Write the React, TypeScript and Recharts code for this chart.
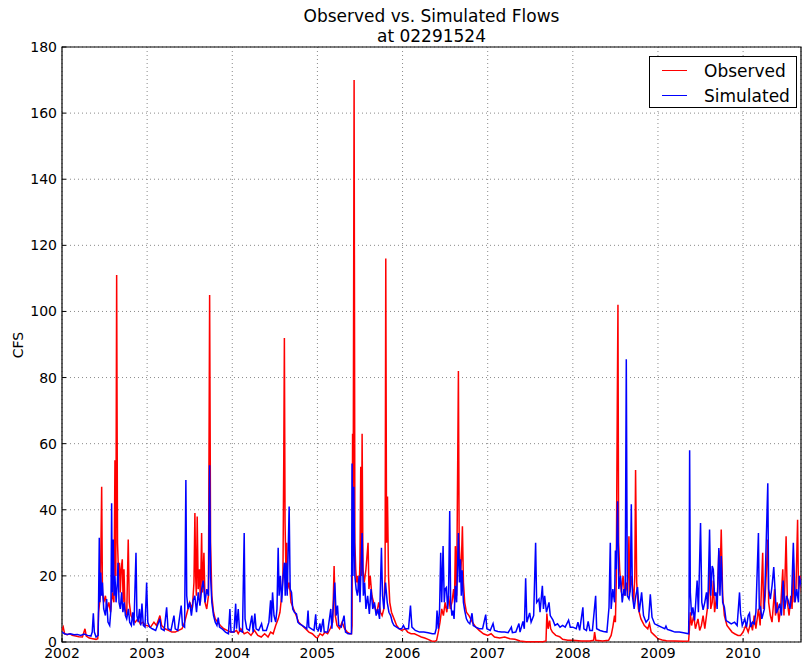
import { LineChart, Line, XAxis, YAxis, CartesianGrid, ReferenceArea } from "recharts";

// decimal year, flow in CFS
const yearTicks = [2002, 2003, 2004, 2005, 2006, 2007, 2008, 2009, 2010];
const cfsTicks = [0, 20, 40, 60, 80, 100, 120, 140, 160, 180];

const observedFlow: [number, number][] = [
  [2002.0, 3.5], [2002.015, 4.5], [2002.03, 2.5], [2002.06, 2.2], [2002.09, 2.5], [2002.12, 2.0], [2002.16, 1.8],
  [2002.2, 1.6], [2002.24, 1.5], [2002.27, 4.0], [2002.285, 1.8], [2002.32, 1.2], [2002.36, 1.0], [2002.4, 0.8],
  [2002.42, 1.0], [2002.43, 9], [2002.45, 14], [2002.466, 47], [2002.475, 15], [2002.49, 12], [2002.51, 14],
  [2002.53, 10], [2002.55, 12], [2002.57, 9], [2002.59, 15], [2002.61, 12], [2002.622, 55], [2002.632, 20],
  [2002.642, 111], [2002.652, 30], [2002.665, 20], [2002.675, 24], [2002.685, 15], [2002.695, 22], [2002.708, 25],
  [2002.718, 12], [2002.728, 22], [2002.74, 10], [2002.76, 8], [2002.778, 31], [2002.79, 12], [2002.81, 8],
  [2002.83, 7], [2002.86, 6], [2002.89, 7], [2002.92, 5.5], [2002.95, 6], [2002.98, 5],
  [2003.0, 5], [2003.04, 4.5], [2003.08, 6], [2003.11, 5], [2003.15, 8], [2003.17, 5], [2003.21, 4], [2003.25, 3.5],
  [2003.29, 3], [2003.33, 3], [2003.37, 3.5], [2003.41, 4], [2003.44, 6], [2003.47, 9], [2003.5, 12], [2003.53, 10],
  [2003.55, 18], [2003.561, 39], [2003.57, 20], [2003.578, 14], [2003.588, 38], [2003.6, 16], [2003.615, 22],
  [2003.625, 12], [2003.64, 33], [2003.65, 15], [2003.667, 27], [2003.68, 12], [2003.7, 10], [2003.72, 14],
  [2003.734, 105], [2003.745, 30], [2003.76, 14], [2003.78, 9], [2003.8, 7], [2003.83, 6], [2003.86, 5],
  [2003.9, 4], [2003.94, 3.5], [2003.98, 3],
  [2004.02, 3], [2004.05, 3.5], [2004.07, 2.5], [2004.1, 4], [2004.14, 2.5], [2004.18, 3], [2004.22, 2],
  [2004.26, 3.5], [2004.3, 2], [2004.34, 1.5], [2004.38, 2.5], [2004.42, 1.5], [2004.45, 3], [2004.48, 2.5],
  [2004.51, 5], [2004.54, 7], [2004.56, 9], [2004.58, 14], [2004.595, 20], [2004.605, 56], [2004.612, 92],
  [2004.62, 36], [2004.63, 22], [2004.64, 30], [2004.65, 16], [2004.67, 18], [2004.69, 12], [2004.72, 10],
  [2004.75, 8], [2004.78, 6], [2004.82, 5], [2004.86, 4], [2004.9, 3], [2004.94, 2.5], [2004.98, 1.5],
  [2005.0, 1.2], [2005.03, 2.5], [2005.06, 2], [2005.09, 3], [2005.12, 2.5], [2005.15, 4], [2005.18, 6],
  [2005.196, 23], [2005.21, 8], [2005.23, 5], [2005.26, 4], [2005.29, 6], [2005.32, 4], [2005.35, 3],
  [2005.38, 2.5], [2005.4, 2.5], [2005.407, 5], [2005.413, 63], [2005.42, 40], [2005.431, 170], [2005.44, 30],
  [2005.45, 22], [2005.46, 18], [2005.47, 20], [2005.49, 15], [2005.5, 25], [2005.509, 53], [2005.517, 20],
  [2005.525, 63], [2005.535, 22], [2005.55, 18], [2005.57, 22], [2005.595, 30], [2005.605, 16], [2005.62, 20],
  [2005.64, 14], [2005.66, 12], [2005.68, 10], [2005.7, 9], [2005.72, 12], [2005.74, 9], [2005.76, 8],
  [2005.78, 10], [2005.795, 20], [2005.803, 116], [2005.812, 30], [2005.823, 44], [2005.835, 20], [2005.85, 12],
  [2005.87, 9], [2005.9, 7], [2005.93, 5], [2005.96, 4], [2005.99, 3.5],
  [2006.03, 4], [2006.06, 3], [2006.1, 2.5], [2006.14, 2.5], [2006.18, 2], [2006.22, 1.5], [2006.26, 1.2],
  [2006.3, 0.8], [2006.34, 0.3], [2006.38, 0.2], [2006.4, 0.5], [2006.42, 3], [2006.44, 6], [2006.46, 10],
  [2006.48, 8], [2006.5, 12], [2006.52, 9], [2006.54, 14], [2006.56, 10], [2006.58, 12], [2006.6, 16],
  [2006.61, 12], [2006.62, 29], [2006.635, 14], [2006.648, 55], [2006.656, 82], [2006.665, 30], [2006.68, 20],
  [2006.692, 25], [2006.703, 35], [2006.715, 18], [2006.73, 12], [2006.75, 9], [2006.78, 8], [2006.82, 6],
  [2006.86, 4.5], [2006.9, 3.5], [2006.95, 2.5],
  [2007.0, 2], [2007.04, 2.5], [2007.08, 1.5], [2007.14, 1.2], [2007.2, 1.5], [2007.26, 1], [2007.32, 0.8],
  [2007.38, 0.3], [2007.45, 0.1], [2007.55, 0.1], [2007.65, 0.1], [2007.685, 0.3], [2007.695, 8.6], [2007.71, 4],
  [2007.727, 6.5], [2007.74, 4], [2007.76, 3], [2007.8, 2], [2007.845, 1.6], [2007.88, 0.8], [2007.94, 0.5],
  [2008.0, 0.5], [2008.1, 0.3], [2008.2, 0.3], [2008.245, 0.5], [2008.256, 3], [2008.27, 0.5], [2008.35, 0.3],
  [2008.42, 0.5], [2008.45, 2], [2008.47, 4.6], [2008.49, 8], [2008.5, 6], [2008.51, 18], [2008.522, 71],
  [2008.53, 102], [2008.538, 30], [2008.55, 22], [2008.57, 15], [2008.59, 20], [2008.61, 14], [2008.63, 18],
  [2008.645, 14], [2008.659, 32], [2008.67, 15], [2008.69, 20], [2008.715, 12], [2008.728, 20], [2008.737, 52],
  [2008.75, 18], [2008.77, 10], [2008.8, 7], [2008.84, 5], [2008.88, 4], [2008.9, 5.6], [2008.92, 3], [2008.96, 2],
  [2009.0, 1], [2009.05, 0.6], [2009.1, 0.4], [2009.2, 0.3], [2009.3, 0.2], [2009.36, 0.3], [2009.37, 4],
  [2009.38, 9], [2009.395, 5], [2009.42, 8], [2009.44, 4], [2009.47, 7], [2009.49, 3.5], [2009.51, 5],
  [2009.53, 8], [2009.55, 4], [2009.58, 10], [2009.595, 15], [2009.606, 23], [2009.62, 10], [2009.637, 12],
  [2009.65, 18.6], [2009.665, 9], [2009.68, 12], [2009.7, 15], [2009.715, 27.7], [2009.728, 18], [2009.743, 34],
  [2009.76, 14], [2009.78, 8], [2009.81, 5], [2009.84, 4], [2009.87, 3], [2009.9, 2.5], [2009.94, 2], [2009.97, 2],
  [2010.0, 3], [2010.03, 5], [2010.06, 3], [2010.09, 6], [2010.11, 3.5], [2010.13, 8], [2010.15, 4], [2010.18, 10],
  [2010.2, 5], [2010.23, 27], [2010.24, 10], [2010.26, 14], [2010.29, 31], [2010.3, 12], [2010.32, 8], [2010.34, 6],
  [2010.37, 16], [2010.38, 8], [2010.4, 12], [2010.42, 6], [2010.44, 10], [2010.466, 22], [2010.48, 8],
  [2010.505, 32], [2010.52, 12], [2010.54, 8], [2010.56, 14], [2010.575, 10], [2010.59, 24], [2010.6, 12],
  [2010.62, 15], [2010.64, 37], [2010.65, 16], [2010.67, 20], [2010.69, 14],
];

const simulatedFlow: [number, number][] = [
  [2002.0, 3], [2002.03, 2.5], [2002.06, 2.3], [2002.1, 2.5], [2002.14, 2.2], [2002.18, 2.3], [2002.22, 2.0],
  [2002.26, 2.4], [2002.3, 2.0], [2002.34, 1.8], [2002.355, 3], [2002.368, 8.7], [2002.38, 3], [2002.4, 1.5],
  [2002.425, 2], [2002.438, 31.5], [2002.445, 12], [2002.455, 21], [2002.465, 14], [2002.475, 18], [2002.49, 10],
  [2002.51, 8], [2002.524, 13], [2002.54, 6], [2002.56, 5], [2002.575, 10], [2002.583, 42], [2002.59, 15],
  [2002.602, 31], [2002.612, 14], [2002.622, 20], [2002.635, 12], [2002.65, 18], [2002.658, 24], [2002.67, 12],
  [2002.685, 10], [2002.7, 15], [2002.715, 9], [2002.73, 12], [2002.745, 8], [2002.76, 7], [2002.78, 10],
  [2002.795, 6], [2002.815, 5], [2002.83, 9], [2002.845, 5], [2002.869, 27], [2002.88, 8], [2002.895, 6],
  [2002.91, 10], [2002.925, 5], [2002.939, 11.6], [2002.955, 5], [2002.975, 4.5], [2002.994, 18],
  [2003.008, 6], [2003.03, 4.5], [2003.06, 4], [2003.1, 3.5], [2003.15, 7], [2003.165, 4], [2003.2, 3.5],
  [2003.229, 10.5], [2003.245, 4], [2003.28, 3.5], [2003.315, 8], [2003.33, 4], [2003.36, 3.5], [2003.4, 11],
  [2003.415, 5], [2003.44, 4.5], [2003.455, 49], [2003.465, 14], [2003.48, 10], [2003.5, 12], [2003.52, 8],
  [2003.541, 12.6], [2003.56, 14], [2003.58, 9], [2003.6, 15], [2003.62, 11], [2003.64, 16], [2003.659, 18.6],
  [2003.68, 12], [2003.7, 16], [2003.72, 14], [2003.734, 53.5], [2003.745, 20], [2003.76, 12], [2003.78, 8],
  [2003.8, 6], [2003.82, 5], [2003.835, 7.4], [2003.85, 4.5], [2003.88, 4], [2003.92, 3], [2003.955, 2.5],
  [2003.972, 10], [2003.985, 3],
  [2004.02, 3], [2004.04, 11.6], [2004.05, 4], [2004.07, 10], [2004.085, 3.5], [2004.12, 3], [2004.14, 33],
  [2004.15, 7], [2004.17, 4], [2004.2, 3.5], [2004.23, 8], [2004.245, 3], [2004.265, 8.6], [2004.28, 4],
  [2004.31, 3.5], [2004.344, 5.5], [2004.36, 3.5], [2004.4, 3.5], [2004.43, 6], [2004.45, 12.6], [2004.46, 6],
  [2004.473, 15], [2004.49, 8], [2004.51, 6], [2004.525, 10], [2004.539, 28.5], [2004.55, 14], [2004.565, 20],
  [2004.58, 12], [2004.598, 20], [2004.612, 24], [2004.622, 14], [2004.632, 24], [2004.645, 14], [2004.668, 41],
  [2004.68, 16], [2004.696, 15], [2004.71, 10], [2004.73, 9], [2004.754, 8.5], [2004.77, 6], [2004.79, 5.5],
  [2004.82, 5], [2004.85, 4.5], [2004.875, 4], [2004.89, 9.5], [2004.9, 4.5], [2004.93, 4], [2004.96, 3.5],
  [2004.98, 8.4], [2004.99, 4],
  [2005.01, 3.5], [2005.03, 5.6], [2005.04, 3], [2005.067, 7], [2005.08, 3], [2005.12, 3], [2005.157, 10],
  [2005.17, 4], [2005.204, 18], [2005.22, 8], [2005.236, 11], [2005.25, 5], [2005.28, 4.5], [2005.313, 8],
  [2005.33, 3], [2005.36, 2.5], [2005.4, 2.5], [2005.407, 54], [2005.417, 20], [2005.427, 47], [2005.44, 20],
  [2005.455, 16], [2005.47, 14], [2005.49, 20], [2005.5, 12], [2005.525, 33], [2005.54, 14], [2005.555, 18],
  [2005.57, 10], [2005.59, 14], [2005.61, 8.5], [2005.63, 16], [2005.65, 10], [2005.67, 12], [2005.69, 8],
  [2005.71, 10], [2005.73, 7], [2005.752, 28.5], [2005.765, 14], [2005.78, 10], [2005.8, 18], [2005.82, 12],
  [2005.84, 9], [2005.86, 8], [2005.88, 6], [2005.9, 5], [2005.93, 4.5], [2005.96, 4], [2005.99, 4],
  [2006.01, 5], [2006.03, 4], [2006.07, 4], [2006.093, 11], [2006.11, 4.5], [2006.15, 3.5], [2006.2, 3],
  [2006.25, 3], [2006.3, 2.8], [2006.35, 2.5], [2006.38, 2.5], [2006.395, 4], [2006.405, 9.5], [2006.42, 4],
  [2006.435, 10], [2006.448, 27], [2006.46, 12], [2006.476, 29], [2006.49, 12], [2006.5, 16], [2006.515, 16.5],
  [2006.53, 10], [2006.54, 14], [2006.554, 39.6], [2006.565, 12], [2006.58, 8], [2006.593, 9.5], [2006.605, 7],
  [2006.62, 17], [2006.635, 12], [2006.656, 33], [2006.668, 18], [2006.68, 25], [2006.69, 14], [2006.7, 21.7],
  [2006.715, 12], [2006.73, 9.5], [2006.75, 7], [2006.77, 6], [2006.79, 5.5], [2006.816, 8.7], [2006.83, 5],
  [2006.86, 4.5], [2006.9, 4], [2006.94, 4], [2006.977, 8.3], [2006.99, 4],
  [2007.03, 3.5], [2007.063, 5.6], [2007.08, 3.5], [2007.12, 3.2], [2007.16, 3], [2007.2, 3], [2007.24, 2.8],
  [2007.278, 4.5], [2007.29, 2.8], [2007.33, 3], [2007.367, 5.6], [2007.38, 3], [2007.414, 6.2], [2007.43, 4],
  [2007.446, 19.3], [2007.46, 6], [2007.493, 8.8], [2007.51, 6], [2007.54, 8], [2007.563, 30], [2007.575, 12],
  [2007.602, 13], [2007.615, 9], [2007.642, 17], [2007.655, 10], [2007.669, 14], [2007.69, 9], [2007.72, 12],
  [2007.735, 8], [2007.767, 6.6], [2007.79, 5], [2007.82, 5.5], [2007.85, 4.5], [2007.88, 5], [2007.91, 4.5],
  [2007.95, 6.6], [2007.97, 4.5],
  [2008.0, 4.5], [2008.04, 4], [2008.06, 6], [2008.08, 3.5], [2008.118, 10.5], [2008.13, 4], [2008.16, 3.5],
  [2008.18, 6.2], [2008.2, 3.5], [2008.23, 3.5], [2008.268, 14], [2008.28, 4], [2008.32, 3.5], [2008.36, 3.2],
  [2008.4, 3], [2008.425, 10.5], [2008.44, 30], [2008.45, 10], [2008.47, 16], [2008.49, 12], [2008.5, 27.7],
  [2008.51, 22], [2008.526, 42.6], [2008.54, 16], [2008.56, 20], [2008.58, 12], [2008.6, 16], [2008.615, 14],
  [2008.628, 85.5], [2008.64, 14], [2008.66, 13], [2008.675, 16], [2008.687, 41.7], [2008.7, 14], [2008.72, 10],
  [2008.74, 14], [2008.76, 16.6], [2008.78, 9], [2008.808, 15], [2008.83, 8], [2008.86, 6], [2008.89, 7],
  [2008.91, 14.4], [2008.93, 7.5], [2008.96, 5.5],
  [2009.0, 5], [2009.04, 4.5], [2009.08, 4], [2009.094, 4.8], [2009.11, 3.8], [2009.15, 3.5], [2009.2, 3],
  [2009.25, 3], [2009.3, 2.8], [2009.36, 2.5], [2009.365, 12], [2009.372, 58], [2009.38, 15], [2009.395, 8],
  [2009.41, 10.5], [2009.43, 6.5], [2009.46, 18.6], [2009.475, 9], [2009.5, 36], [2009.515, 12], [2009.53, 9.7],
  [2009.55, 12], [2009.57, 15], [2009.585, 10], [2009.606, 34], [2009.62, 14], [2009.637, 23], [2009.65, 22],
  [2009.665, 14], [2009.68, 15], [2009.695, 10], [2009.715, 28.4], [2009.728, 14], [2009.743, 26], [2009.76, 12],
  [2009.78, 10.5], [2009.8, 6.5], [2009.83, 6], [2009.86, 5.5], [2009.9, 6], [2009.93, 5], [2009.958, 15],
  [2009.97, 8.7], [2009.99, 5],
  [2010.02, 7], [2010.04, 4.5], [2010.06, 8], [2010.075, 8.7], [2010.09, 4.5], [2010.11, 6], [2010.13, 5.5],
  [2010.15, 9], [2010.18, 33], [2010.19, 10], [2010.205, 10.5], [2010.22, 7], [2010.25, 10], [2010.29, 48],
  [2010.3, 16], [2010.32, 13], [2010.34, 17], [2010.36, 22.7], [2010.39, 8.7], [2010.41, 10], [2010.43, 11.6],
  [2010.45, 8], [2010.47, 18.6], [2010.49, 10], [2010.51, 14], [2010.53, 12.5], [2010.55, 10], [2010.57, 14],
  [2010.59, 30], [2010.61, 12], [2010.63, 16], [2010.65, 12], [2010.66, 20], [2010.69, 16],
];

const toPoints = (rows: [number, number][]) => rows.map(([t, cfs]) => ({ t, cfs }));

const FONT = "DejaVu Sans";
const X_DOMAIN: [number, number] = [2002, 2010.68];
const tickStyle = { fill: "#000", fontSize: 14, fontFamily: FONT };
const noLabel = () => "";

function FlowLegend() {
  const row = (color: string, label: string) => (
    <div style={{ display: "flex", alignItems: "center", height: 25 }}>
      <span style={{ display: "inline-block", width: 25, height: 0, borderTop: `1.5px solid ${color}`, marginLeft: 12, marginRight: 17 }} />
      <span>{label}</span>
    </div>
  );
  return (
    <div
      style={{
        position: "absolute",
        left: 649,
        top: 56,
        width: 148,
        height: 52,
        boxSizing: "border-box",
        border: "1px solid #000",
        background: "#fff",
        fontSize: 17,
        paddingTop: 1,
      }}
    >
      {row("#ff0000", "Observed")}
      {row("#0000ff", "Simulated")}
    </div>
  );
}

export default function App() {
  return (
    <div style={{ position: "absolute", left: 0, top: 0, width: 802, height: 664, background: "#fff", fontFamily: FONT, color: "#000" }}>
      <div style={{ position: "absolute", left: 62, top: 6, width: 739, textAlign: "center", fontSize: 17, lineHeight: "20px" }}>
        <div>Observed vs. Simulated Flows</div>
        <div>at 02291524</div>
      </div>
      <div style={{ position: "absolute", left: 18, top: 345, transform: "translate(-50%, -50%) rotate(-90deg)", fontSize: 14 }}>
        CFS
      </div>
      <LineChart width={802} height={664} margin={{ top: 47, right: 1, bottom: 0, left: 0 }}>
        <CartesianGrid stroke="#8a8a8a" strokeDasharray="1 3" />
        <XAxis
          type="number"
          dataKey="t"
          domain={X_DOMAIN}
          ticks={yearTicks}
          allowDataOverflow
          interval={0}
          height={22}
          axisLine={false}
          tickLine={{ stroke: "#000" }}
          tickSize={-4}
          tickMargin={10}
          tick={tickStyle}
        />
        <XAxis
          xAxisId="top"
          orientation="top"
          type="number"
          domain={X_DOMAIN}
          ticks={yearTicks}
          allowDataOverflow
          interval={0}
          height={0}
          axisLine={false}
          tickLine={{ stroke: "#000" }}
          tickSize={-4}
          tickFormatter={noLabel}
        />
        <YAxis
          type="number"
          domain={[0, 180]}
          ticks={cfsTicks}
          interval={0}
          width={62}
          axisLine={false}
          tickLine={{ stroke: "#000" }}
          tickSize={-4}
          tickMargin={9}
          tick={tickStyle}
        />
        <YAxis
          yAxisId="right"
          orientation="right"
          type="number"
          domain={[0, 180]}
          ticks={cfsTicks}
          interval={0}
          width={0}
          axisLine={false}
          tickLine={{ stroke: "#000" }}
          tickSize={-4}
          tickFormatter={noLabel}
        />
        <Line data={toPoints(observedFlow)} dataKey="cfs" stroke="#ff0000" strokeWidth={1.5} dot={false} isAnimationActive={false} />
        <Line data={toPoints(simulatedFlow)} dataKey="cfs" stroke="#0000ff" strokeWidth={1.5} dot={false} isAnimationActive={false} />
        <ReferenceArea x1={X_DOMAIN[0]} x2={X_DOMAIN[1]} y1={0} y2={180} fill="none" stroke="#000" strokeWidth={1.2} ifOverflow="visible" />
      </LineChart>
      <FlowLegend />
    </div>
  );
}
